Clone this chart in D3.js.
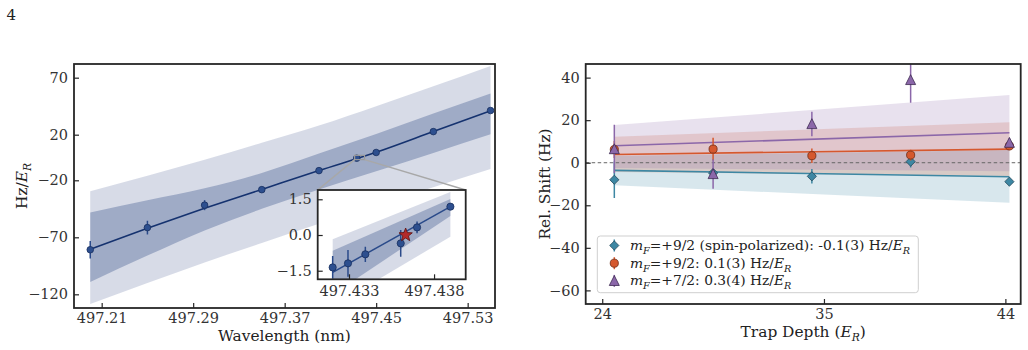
<!DOCTYPE html>
<html>
<head>
<meta charset="utf-8">
<script src="https://cdn.jsdelivr.net/npm/d3@7"></script>
<style>
body { margin: 0; background: #fff; }
svg { display: block; font-family: "DejaVu Serif", serif; }
</style>
</head>
<body>
<svg id="fig" width="1028" height="350"></svg>
<script>
// ---- left panel: shift vs wavelength ----
const wlPoints = [497.2, 497.25, 497.30, 497.35, 497.40, 497.433, 497.45, 497.50, 497.55];
const wlShift = [-80.9, -61.5, -41.8, -28.2, -11.5, -0.6, 4.4, 22.7, 41.2];
const wlErr = [7.6, 6.0, 4.4, 1.5, 1.5, 1.0, 1.5, 1.5, 1.5];

const bandWl = [497.2, 497.25, 497.3, 497.35, 497.4, 497.45, 497.5, 497.55];
const fitShift = [-80.5, -62, -44.5, -28, -11.5, 4.5, 22.7, 41];
const lightHi = [-29.7, -16, -2, 13, 28, 45, 62.5, 80.3];
const lightLo = [-128.6, -110, -92, -75, -58, -42, -26, -10];
const darkHi = [-48.3, -37.5, -27, -13.5, 3.5, 20.5, 38.5, 56.2];
const darkLo = [-109.2, -86, -64, -45, -28, -12, 4, 20.3];

const wlTicks = [497.21, 497.29, 497.37, 497.45, 497.53];
const shiftTicks = [70, 20, -20, -70, -120];

// inset (zoom around 497.433 nm)
const insetWl = [497.43204, 497.43294, 497.43396, 497.43604, 497.43700, 497.43896];
const insetShift = [-1.36, -1.19, -0.81, -0.35, 0.32, 1.19];
const insetErr = [0.48, 0.56, 0.32, 0.56, 0.25, 0.08];
const starWl = 497.43633, starShift = 0.0;
const insetBandWl = [497.43204, 497.43896];
const insetFit = [-1.57, 1.19];
const insetLightHi = [-0.18, 1.81];
const insetLightLo = [-3.0, -0.07];
const insetDarkHi = [-0.66, 1.51];
const insetDarkLo = [-2.5, 0.8];
const insetXTicks = [497.433, 497.438];
const insetYTicks = [-1.5, 0.0, 1.5];

// ---- right panel: shift vs trap depth ----
const depth = [24.6, 29.5, 34.4, 39.3, 44.2];
const spinPolShift = [-8.0, -4.8, -6.4, 0.5, -8.9];
const spinPolErr = [8.6, 2.0, 3.4, 2.8, 1.2];
const nineHalfShift = [6.2, 6.4, 3.3, 3.6, 7.9];
const nineHalfErr = [4.0, 5.3, 3.4, 2.5, 2.0];
const sevenHalfShift = [6.4, -5.3, 18.2, 38.9, 9.4];
const sevenHalfErr = [11.4, 6.9, 5.7, 10.7, 2.0];

const fitDepth = [24.6, 44.2];
const spinPolFit = [-3.6, -6.6], spinPolHi = [3.2, 6.0], spinPolLo = [-10.6, -18.8];
const nineHalfFit = [3.9, 6.4], nineHalfHi = [12.2, 19.0], nineHalfLo = [-4.4, -6.2];
const sevenHalfFit = [8.0, 14.1], sevenHalfHi = [17.7, 31.8], sevenHalfLo = [-2.5, -4.0];

const depthTicks = [24, 35, 44];
const relTicks = [40, 20, 0, -20, -40, -60];

const series = [
  { name: 'spin', y: spinPolShift, e: spinPolErr, fit: spinPolFit, hi: spinPolHi, lo: spinPolLo,
    color: '#3d87a3', edge: '#22485a', marker: 'diamond',
    label: [{t: 'm', i: 1}, {t: 'F', i: 1, sub: 1}, {t: '=+9/2 (spin-polarized): -0.1(3) Hz/'}, {t: 'E', i: 1}, {t: 'R', i: 1, sub: 1}] },
  { name: 'nine', y: nineHalfShift, e: nineHalfErr, fit: nineHalfFit, hi: nineHalfHi, lo: nineHalfLo,
    color: '#d5582e', edge: '#6e2812', marker: 'circle',
    label: [{t: 'm', i: 1}, {t: 'F', i: 1, sub: 1}, {t: '=+9/2: 0.1(3) Hz/'}, {t: 'E', i: 1}, {t: 'R', i: 1, sub: 1}] },
  { name: 'seven', y: sevenHalfShift, e: sevenHalfErr, fit: sevenHalfFit, hi: sevenHalfHi, lo: sevenHalfLo,
    color: '#8b67a9', edge: '#3d2a52', marker: 'triangle',
    label: [{t: 'm', i: 1}, {t: 'F', i: 1, sub: 1}, {t: '=+7/2: 0.3(4) Hz/'}, {t: 'E', i: 1}, {t: 'R', i: 1, sub: 1}] }
];

const svg = d3.select('#fig');
const FS = 14.5;   // tick labels
const LS = 15.4;   // axis labels
const ink = '#262626';

svg.append('text').attr('x', 6.5).attr('y', 20).attr('font-size', 15).attr('fill', '#222').text('4');

function richText(sel, parts, size) {
  let shifted = 0;
  parts.forEach(p => {
    const ts = sel.append('tspan').text(p.t);
    if (p.i) ts.attr('font-style', 'italic');
    const want = p.sub ? size * 0.28 : 0;
    if (want !== shifted) { ts.attr('dy', want - shifted); shifted = want; }
    if (p.sub) ts.attr('font-size', size * 0.7);
  });
}

function styleAxis(g) {
  g.select('.domain').remove();
  g.selectAll('.tick line').attr('stroke', ink).attr('stroke-width', 1.2);
  g.selectAll('.tick text').attr('fill', '#333').attr('font-size', FS).attr('font-family', '"DejaVu Serif", serif');
}

function frame(box, w) {
  svg.append('rect').attr('x', box.left).attr('y', box.top)
    .attr('width', box.right - box.left).attr('height', box.bottom - box.top)
    .attr('fill', 'none').attr('stroke', ink).attr('stroke-width', w || 1.8);
}

function clip(id, box) {
  svg.append('clipPath').attr('id', id).append('rect')
    .attr('x', box.left).attr('y', box.top)
    .attr('width', box.right - box.left).attr('height', box.bottom - box.top);
}

// =============== LEFT ===============
const L = { left: 74, right: 495, top: 64, bottom: 308 };
const xL = d3.scaleLinear().domain([497.1858, 497.5539]).range([L.left, L.right]);
const yL = d3.scaleLinear().domain([-132, 82]).range([L.bottom, L.top]);
clip('clipL', L);
const gL = svg.append('g').attr('clip-path', 'url(#clipL)');

const navy = '#15326f';
const bandFill = '#1f3a7a';

function bandArea(xs, x, y, lo, hi) {
  return d3.area().x((d, i) => x(xs[i])).y0((d, i) => y(lo[i])).y1((d, i) => y(hi[i]))
    .curve(d3.curveMonotoneX)(xs);
}

gL.append('path').attr('d', bandArea(bandWl, xL, yL, lightLo, lightHi)).attr('fill', bandFill).attr('fill-opacity', 0.18);
gL.append('path').attr('d', bandArea(bandWl, xL, yL, darkLo, darkHi)).attr('fill', bandFill).attr('fill-opacity', 0.3);
gL.append('path')
  .attr('d', d3.line().x((d, i) => xL(bandWl[i])).y(d => yL(d)).curve(d3.curveMonotoneX)(fitShift))
  .attr('fill', 'none').attr('stroke', navy).attr('stroke-width', 1.6);

const mainPts = wlPoints.map((w, i) => ({ x: w, y: wlShift[i], e: wlErr[i] }));
gL.selectAll('line.eb').data(mainPts).join('line').attr('class', 'eb')
  .attr('x1', d => xL(d.x)).attr('x2', d => xL(d.x))
  .attr('y1', d => yL(d.y - d.e)).attr('y2', d => yL(d.y + d.e))
  .attr('stroke', '#2a4a8a').attr('stroke-width', 1.5);
gL.selectAll('circle.pt').data(mainPts).join('circle').attr('class', 'pt')
  .attr('cx', d => xL(d.x)).attr('cy', d => yL(d.y)).attr('r', 3.3)
  .attr('fill', '#2d4f8f').attr('stroke', '#182f5e').attr('stroke-width', 0.8);

svg.append('g').attr('transform', `translate(0,${L.bottom})`)
  .call(d3.axisBottom(xL).tickValues(wlTicks).tickFormat(d3.format('.2f')).tickSizeInner(-5).tickSizeOuter(0).tickPadding(5))
  .call(styleAxis);
svg.append('g').attr('transform', `translate(${L.left},0)`)
  .call(d3.axisLeft(yL).tickValues(shiftTicks).tickFormat(d3.format('d')).tickSizeInner(-5).tickSizeOuter(0).tickPadding(6))
  .call(styleAxis);
frame(L);

svg.append('text').attr('x', (L.left + L.right) / 2).attr('y', 340.5).attr('text-anchor', 'middle')
  .attr('font-size', LS).attr('fill', '#222').text('Wavelength (nm)');
richText(svg.append('text').attr('transform', `translate(27,${(L.top + L.bottom) / 2}) rotate(-90)`)
  .attr('text-anchor', 'middle').attr('font-size', LS).attr('fill', '#222'),
  [{t: 'Hz/'}, {t: 'E', i: 1}, {t: 'R', i: 1, sub: 1}], LS);

// inset
const I = { left: 317.7, right: 465.7, top: 190, bottom: 279.3 };
const xI = d3.scaleLinear().domain([497.43116, 497.43986]).range([I.left, I.right]);
const yI = d3.scaleLinear().domain([-1.86, 1.89]).range([I.bottom, I.top]);

// zoom indicator on main axes
const rx0 = xL(xI.domain()[0]), rx1 = xL(xI.domain()[1]);
const ry0 = yL(yI.domain()[1]), ry1 = yL(yI.domain()[0]);
svg.append('rect').attr('x', rx0).attr('y', ry0).attr('width', rx1 - rx0).attr('height', ry1 - ry0)
  .attr('fill', 'none').attr('stroke', '#9a9a9a').attr('stroke-width', 1.2);
svg.append('line').attr('x1', rx0).attr('y1', ry1).attr('x2', I.left).attr('y2', I.top)
  .attr('stroke', '#a8a8a8').attr('stroke-width', 1.5);
svg.append('line').attr('x1', rx1).attr('y1', ry1).attr('x2', I.right).attr('y2', I.top)
  .attr('stroke', '#a8a8a8').attr('stroke-width', 1.5);

svg.append('rect').attr('x', I.left).attr('y', I.top).attr('width', I.right - I.left).attr('height', I.bottom - I.top).attr('fill', '#fff');
clip('clipI', I);
const gI = svg.append('g').attr('clip-path', 'url(#clipI)');
gI.append('path').attr('d', bandArea(insetBandWl, xI, yI, insetLightLo, insetLightHi)).attr('fill', bandFill).attr('fill-opacity', 0.18);
gI.append('path').attr('d', bandArea(insetBandWl, xI, yI, insetDarkLo, insetDarkHi)).attr('fill', bandFill).attr('fill-opacity', 0.3);
gI.append('path')
  .attr('d', d3.line().x((d, i) => xI(insetBandWl[i])).y(d => yI(d))(insetFit))
  .attr('fill', 'none').attr('stroke', '#2a4a8a').attr('stroke-width', 1.5);
const insetPts = insetWl.map((w, i) => ({ x: w, y: insetShift[i], e: insetErr[i] }));
gI.selectAll('line.eb').data(insetPts).join('line').attr('class', 'eb')
  .attr('x1', d => xI(d.x)).attr('x2', d => xI(d.x))
  .attr('y1', d => yI(d.y - d.e)).attr('y2', d => yI(d.y + d.e))
  .attr('stroke', '#2a4a8a').attr('stroke-width', 1.5);
gI.selectAll('circle.pt').data(insetPts).join('circle').attr('class', 'pt')
  .attr('cx', d => xI(d.x)).attr('cy', d => yI(d.y)).attr('r', 3.6)
  .attr('fill', '#2d4f8f').attr('stroke', '#182f5e').attr('stroke-width', 0.8);

function starPath(cx, cy, R, r) {
  const pts = [];
  for (let k = 0; k < 10; k++) {
    const a = -Math.PI / 2 + k * Math.PI / 5;
    const rad = k % 2 ? r : R;
    pts.push([cx + rad * Math.cos(a), cy + rad * Math.sin(a)]);
  }
  return 'M' + pts.map(p => p.join(',')).join('L') + 'Z';
}
gI.append('path').attr('d', starPath(xI(starWl), yI(starShift), 7, 3))
  .attr('fill', '#b22a2a').attr('stroke', '#5c1111').attr('stroke-width', 0.8);

svg.append('g').attr('transform', `translate(0,${I.bottom})`)
  .call(d3.axisBottom(xI).tickValues(insetXTicks).tickFormat(d3.format('.3f')).tickSizeInner(-5).tickSizeOuter(0).tickPadding(6))
  .call(styleAxis);
svg.append('g').attr('transform', `translate(${I.left},0)`)
  .call(d3.axisLeft(yI).tickValues(insetYTicks).tickFormat(d3.format('.1f')).tickSizeInner(-5).tickSizeOuter(0).tickPadding(6))
  .call(styleAxis);
frame(I, 1.8);

// =============== RIGHT ===============
const R = { left: 585.7, right: 1020.7, top: 64, bottom: 304 };
const xR = d3.scaleLinear().domain([23.18, 44.76]).range([R.left, R.right]);
const yR = d3.scaleLinear().domain([-66.4, 46.4]).range([R.bottom, R.top]);
clip('clipR', R);
const gR = svg.append('g').attr('clip-path', 'url(#clipR)');

series.forEach(s => {
  gR.append('path').attr('d', bandArea(fitDepth, xR, yR, s.lo, s.hi))
    .attr('fill', s.color).attr('fill-opacity', 0.2);
});
series.forEach(s => {
  gR.append('path').attr('d', d3.line().x((d, i) => xR(fitDepth[i])).y(d => yR(d))(s.fit))
    .attr('fill', 'none').attr('stroke', s.color).attr('stroke-width', 1.6);
});
gR.append('line').attr('x1', R.left).attr('x2', R.right).attr('y1', yR(0)).attr('y2', yR(0))
  .attr('stroke', '#666').attr('stroke-width', 1).attr('stroke-dasharray', '3.5,2.5');

function markerPath(type) {
  if (type === 'diamond') return 'M0,-4.6L4.6,0L0,4.6L-4.6,0Z';
  if (type === 'triangle') return 'M0,-5.3L5,4.6L-5,4.6Z';
  return d3.symbol(d3.symbolCircle, 52)();
}

series.forEach(s => {
  const pts = depth.map((x, i) => ({ x, y: s.y[i], e: s.e[i] }));
  const g = gR.append('g');
  g.selectAll('line').data(pts).join('line')
    .attr('x1', d => xR(d.x)).attr('x2', d => xR(d.x))
    .attr('y1', d => yR(d.y - d.e)).attr('y2', d => yR(d.y + d.e))
    .attr('stroke', s.color).attr('stroke-width', 1.5);
  g.selectAll('path').data(pts).join('path')
    .attr('d', markerPath(s.marker))
    .attr('transform', d => `translate(${xR(d.x)},${yR(d.y)})`)
    .attr('fill', s.color).attr('stroke', s.edge).attr('stroke-width', 0.8);
});

svg.append('g').attr('transform', `translate(0,${R.bottom})`)
  .call(d3.axisBottom(xR).tickValues(depthTicks).tickFormat(d3.format('d')).tickSizeInner(-5).tickSizeOuter(0).tickPadding(5))
  .call(styleAxis);
svg.append('g').attr('transform', `translate(${R.left},0)`)
  .call(d3.axisLeft(yR).tickValues(relTicks).tickFormat(d3.format('d')).tickSizeInner(-5).tickSizeOuter(0).tickPadding(6))
  .call(styleAxis);
frame(R);

richText(svg.append('text').attr('x', (R.left + R.right) / 2).attr('y', 336.5).attr('text-anchor', 'middle')
  .attr('font-size', LS).attr('fill', '#222'),
  [{t: 'Trap Depth ('}, {t: 'E', i: 1}, {t: 'R', i: 1, sub: 1}, {t: ')'}], LS);
svg.append('text').attr('transform', `translate(549.5,${(R.top + R.bottom) / 2}) rotate(-90)`)
  .attr('text-anchor', 'middle').attr('font-size', LS).attr('fill', '#222').text('Rel. Shift (Hz)');

// legend
const LG = { x: 597.3, y: 236, w: 321, h: 56.7 };
const legFS = 13.8;
svg.append('rect').attr('x', LG.x).attr('y', LG.y).attr('width', LG.w).attr('height', LG.h)
  .attr('rx', 3).attr('fill', '#fff').attr('fill-opacity', 0.85).attr('stroke', '#cfcfcf').attr('stroke-width', 1);
series.forEach((s, k) => {
  const cy = 245.5 + k * 17.7;
  svg.append('line').attr('x1', 614.3).attr('x2', 614.3).attr('y1', cy - 6).attr('y2', cy + 6)
    .attr('stroke', s.color).attr('stroke-width', 1.5);
  svg.append('path').attr('d', markerPath(s.marker)).attr('transform', `translate(614.3,${cy})`)
    .attr('fill', s.color).attr('stroke', s.edge).attr('stroke-width', 0.8);
  richText(svg.append('text').attr('x', 630).attr('y', cy + 4.5).attr('font-size', legFS).attr('fill', '#222'),
    s.label, legFS);
});
</script>
</body>
</html>
